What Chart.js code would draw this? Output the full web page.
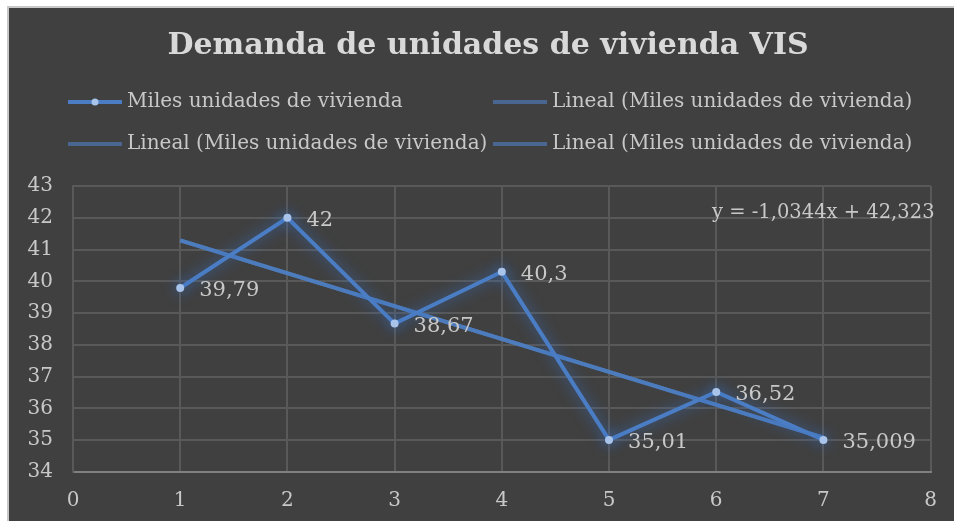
<!DOCTYPE html>
<html>
<head>
<meta charset="utf-8">
<script src="https://cdn.jsdelivr.net/npm/chart.js@4"></script>
<style>
    html, body { margin: 0; padding: 0; background: #ffffff; }
    .frame {
        position: absolute; left: 7px; top: 6px;
        width: 947px; height: 515px;
        background: #c8c8c8;
    }
    .box {
        position: absolute; left: 9px; top: 8px;
        width: 945px; height: 513px;
        background: #404040;
    }
</style>
</head>
<body>
<div class="frame"></div>
<div class="box"><canvas id="chart" width="945" height="513"></canvas></div>
<script>
const xValues = [1, 2, 3, 4, 5, 6, 7];
const viviendas = [39.79, 42, 38.67, 40.3, 35.01, 36.52, 35.009];
// linea de tendencia (y = -1,0344x + 42,323), extremos en x=1 y x=7
const trendX = [1, 7];
const trendValues = [41.29, 35.08];
const equationText = 'y = -1,0344x + 42,323';
const titleText = 'Demanda de unidades de vivienda VIS';
const seriesLabel = 'Miles unidades de vivienda';
const trendLabel = 'Lineal (Miles unidades de vivienda)';

const serif = "'DejaVu Serif', 'Liberation Serif', serif";
const textColor = '#c8c8c8';
const mainBlue = '#4a7dc4';
const trendBlue = 'rgba(79, 129, 199, 0.6)';

const mainPoints = xValues.map((x, i) => ({ x: x, y: viviendas[i] }));
const trendPoints = trendX.map((x, i) => ({ x: x, y: trendValues[i] }));

function trendDataset() {
    return {
        label: trendLabel,
        data: trendPoints,
        showLine: true,
        borderColor: trendBlue,
        borderWidth: 4,
        pointRadius: 0,
        fill: false
    };
}

// brillo alrededor de la serie principal
const glowPlugin = {
    id: 'glow',
    beforeDatasetDraw(chart, args) {
        if (args.index !== 0) return;
        const ctx = chart.ctx;
        ctx.save();
        ctx.shadowColor = 'rgba(55, 115, 205, 0.8)';
        ctx.shadowBlur = 14;
    },
    afterDatasetDraw(chart, args) {
        if (args.index !== 0) return;
        chart.ctx.restore();
    }
};

// titulo, etiquetas de datos, leyenda en dos columnas y ecuacion
const extrasPlugin = {
    id: 'extras',
    afterDraw(chart) {
        const ctx = chart.ctx;
        ctx.save();

        // titulo (un poco a la derecha del centro, como en el original)
        ctx.font = 'bold 30px ' + serif;
        ctx.fillStyle = '#d9d9d9';
        ctx.textAlign = 'center';
        ctx.textBaseline = 'middle';
        ctx.fillText(titleText, 479, 38);

        // etiquetas a la derecha de cada punto
        const meta = chart.getDatasetMeta(0);
        ctx.font = '21px ' + serif;
        ctx.fillStyle = textColor;
        ctx.textAlign = 'left';
        meta.data.forEach((pt, i) => {
            const txt = String(viviendas[i]).replace('.', ',');
            ctx.fillText(txt, pt.x + 19, pt.y + 3);
        });

        // ecuacion de la tendencia
        ctx.font = '19.5px ' + serif;
        ctx.fillText(equationText, 703, 205);

        // leyenda
        const items = [
            { label: seriesLabel, color: mainBlue, marker: true, x: 59, y: 94 },
            { label: trendLabel, color: trendBlue, marker: false, x: 484, y: 94 },
            { label: trendLabel, color: trendBlue, marker: false, x: 59, y: 136 },
            { label: trendLabel, color: trendBlue, marker: false, x: 484, y: 136 }
        ];
        ctx.font = '20px ' + serif;
        items.forEach(item => {
            ctx.strokeStyle = item.color;
            ctx.lineWidth = 4;
            ctx.lineCap = 'butt';
            ctx.beginPath();
            ctx.moveTo(item.x, item.y);
            ctx.lineTo(item.x + 54, item.y);
            ctx.stroke();
            if (item.marker) {
                ctx.fillStyle = '#a9c4ea';
                ctx.beginPath();
                ctx.arc(item.x + 27, item.y, 3.5, 0, Math.PI * 2);
                ctx.fill();
            }
            ctx.fillStyle = textColor;
            ctx.fillText(item.label, item.x + 59, item.y);
        });

        ctx.restore();
    }
};

const ctx = document.getElementById('chart').getContext('2d');
const chart = new Chart(ctx, {
    type: 'scatter',
    data: {
        datasets: [
            {
                label: seriesLabel,
                data: mainPoints,
                showLine: true,
                borderColor: mainBlue,
                borderWidth: 4,
                pointRadius: 4,
                pointBackgroundColor: '#a9c4ea',
                pointBorderWidth: 0,
                fill: false
            },
            trendDataset(),
            trendDataset(),
            trendDataset()
        ]
    },
    options: {
        responsive: false,
        animation: false,
        // espacio arriba para titulo y leyenda
        layout: { padding: { left: 0, right: 22, top: 178, bottom: 0 } },
        plugins: {
            legend: { display: false },
            tooltip: { enabled: false },
            title: { display: false }
        },
        scales: {
            x: {
                type: 'linear',
                min: 0,
                max: 8,
                ticks: {
                    stepSize: 1,
                    color: textColor,
                    padding: 17,
                    font: { family: serif, size: 20 }
                },
                grid: { color: '#595959', lineWidth: 2, drawTicks: false },
                border: { color: '#808080', width: 2 },
                afterFit(scale) { scale.height = 49; }
            },
            y: {
                min: 34,
                max: 43,
                ticks: {
                    stepSize: 1,
                    color: textColor,
                    padding: 20,
                    font: { family: serif, size: 20 }
                },
                grid: { color: '#595959', lineWidth: 2, drawTicks: false },
                border: { color: '#595959', width: 2 },
                afterFit(scale) { scale.width = 64; }
            }
        }
    },
    plugins: [glowPlugin, extrasPlugin]
});
</script>
</body>
</html>
